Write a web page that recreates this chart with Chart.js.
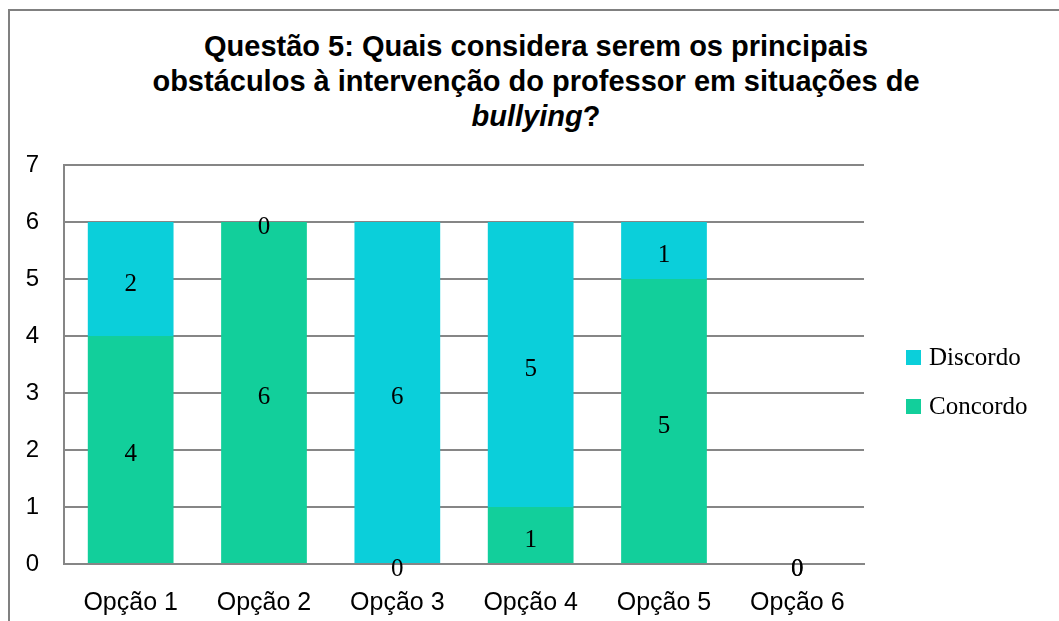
<!DOCTYPE html>
<html>
<head>
<meta charset="utf-8">
<script src="https://cdn.jsdelivr.net/npm/chart.js@4/dist/chart.umd.min.js"></script>
<style>
    body { margin: 0; background: #fff; }
    #wrap { position: relative; width: 1059px; height: 621px; overflow: hidden; }
    #frame { position: absolute; left: 8px; top: 9px; width: 1100px; height: 700px;
             border-left: 2px solid #808080; border-top: 2px solid #808080; }
    #title { position: absolute; left: 10px; top: 29px; width: 1052px; text-align: center;
             font-family: "Liberation Sans", Arial, sans-serif; font-weight: bold;
             font-size: 29px; line-height: 35px; color: #000; }
    canvas { position: absolute; left: 0; top: 0; }
</style>
</head>
<body>
<div id="wrap">
    <div id="frame"></div>
    <div id="title">Questão 5: Quais considera serem os principais<br>obstáculos à intervenção do professor em situações de<br><i>bullying</i>?</div>
    <canvas id="barChart" width="1059" height="621"></canvas>
</div>
<script>
const categories = ['Opção 1', 'Opção 2', 'Opção 3', 'Opção 4', 'Opção 5', 'Opção 6'];
const concordo = [4, 6, 0, 1, 5, 0];
const discordo = [2, 0, 6, 5, 1, 0];
const yMin = 0;
const yMax = 7;
const yStep = 1;

const gridGray = '#868686';

// value labels in the middle of each segment
const segmentLabels = {
    id: 'segmentLabels',
    afterDatasetsDraw(chart) {
        const ctx = chart.ctx;
        ctx.save();
        ctx.font = '25px "Liberation Serif", serif';
        ctx.fillStyle = '#000';
        ctx.textAlign = 'center';
        ctx.textBaseline = 'middle';
        chart.data.datasets.forEach((ds, i) => {
            chart.getDatasetMeta(i).data.forEach((bar, j) => {
                ctx.fillText(String(ds.data[j]), bar.x, (bar.y + bar.base) / 2 + 5);
            });
        });
        ctx.restore();
    }
};

// legend on the right, top series first
const sideLegend = {
    id: 'sideLegend',
    afterDraw(chart) {
        const ctx = chart.ctx;
        const items = chart.data.datasets.slice().reverse();
        ctx.save();
        ctx.font = '25px "Liberation Serif", serif';
        ctx.textBaseline = 'middle';
        ctx.textAlign = 'left';
        items.forEach((ds, k) => {
            const cy = 357 + k * 49;
            ctx.fillStyle = ds.backgroundColor;
            ctx.fillRect(906, cy - 7, 15, 15);
            ctx.fillStyle = '#000';
            ctx.fillText(ds.label, 929, cy + 1);
        });
        ctx.restore();
    }
};

const ctx = document.getElementById('barChart').getContext('2d');
const barChart = new Chart(ctx, {
    type: 'bar',
    data: {
        labels: categories,
        datasets: [
            { label: 'Concordo', data: concordo, backgroundColor: '#12CF9B' },
            { label: 'Discordo', data: discordo, backgroundColor: '#0BCFDA' }
        ]
    },
    options: {
        responsive: false,
        animation: false,
        layout: { padding: { top: 165, right: 195, bottom: 0, left: 0 } },
        datasets: { bar: { barPercentage: 0.643, categoryPercentage: 1 } },
        plugins: {
            legend: { display: false },
            title: { display: false },
            tooltip: { enabled: false }
        },
        scales: {
            x: {
                stacked: true,
                grid: { display: false },
                border: { display: true, color: gridGray, width: 2 },
                ticks: {
                    color: '#000',
                    padding: 16,
                    font: { family: '"Liberation Sans", Arial, sans-serif', size: 25 }
                },
                afterFit: function(scale) { scale.height = 57; }
            },
            y: {
                stacked: true,
                min: yMin,
                max: yMax,
                grid: { color: gridGray, lineWidth: 2, drawTicks: false },
                border: { display: true, color: gridGray, width: 2 },
                ticks: {
                    stepSize: yStep,
                    color: '#000',
                    padding: 25,
                    font: { family: '"Liberation Sans", Arial, sans-serif', size: 24 }
                },
                afterFit: function(scale) { scale.width = 64; }
            }
        }
    },
    plugins: [segmentLabels, sideLegend]
});
</script>
</body>
</html>
